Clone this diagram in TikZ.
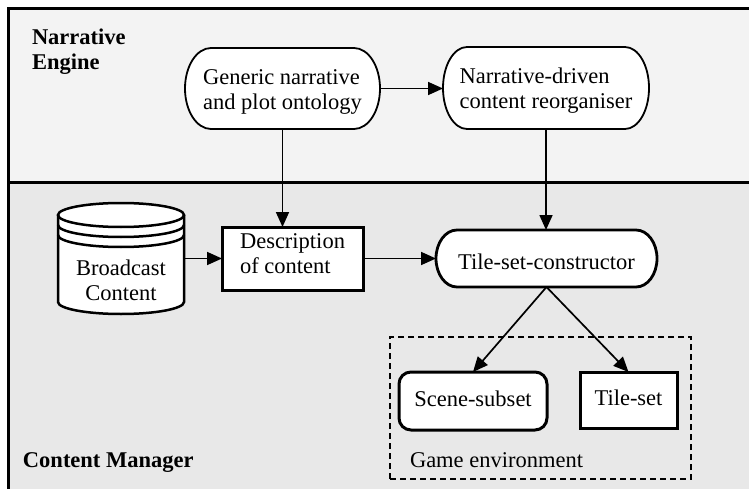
\documentclass[tikz,border=0pt]{standalone}
\usepackage{fontspec}
\setmainfont{Liberation Serif}
\usetikzlibrary{arrows.meta,calc}
\definecolor{topbg}{HTML}{F3F3F3}
\definecolor{botbg}{HTML}{E8E8E8}
\pgfdeclarelayer{back}
\pgfdeclarelayer{shapes}
\pgfsetlayers{back,shapes,main}
% #1 style, #2 node, #3 x radius of ends, #4 half height
\newcommand\stadiumpath[4]{%
 \path[#1] let \p1=(#2.north west), \p2=(#2.south east) in
  (\x1+#3pt,\y1) -- (\x2-#3pt,\y1)
  .. controls (\x2-0.4477*#3pt,\y1) and (\x2,\y1-0.4477*#4pt) .. (\x2,\y1-#4pt)
  .. controls (\x2,\y2+0.4477*#4pt) and (\x2-0.4477*#3pt,\y2) .. (\x2-#3pt,\y2)
  -- (\x1+#3pt,\y2)
  .. controls (\x1+0.4477*#3pt,\y2) and (\x1,\y2+0.4477*#4pt) .. (\x1,\y2+#4pt)
  .. controls (\x1,\y1-0.4477*#4pt) and (\x1+0.4477*#3pt,\y1) .. (\x1+#3pt,\y1) -- cycle;}
\begin{document}
\begin{tikzpicture}[x=1pt,y=-1pt,
  font=\fontsize{22.5}{25}\selectfont,
  every node/.style={inner sep=0pt, outer sep=0pt},
  arr/.style={-{Triangle[length=15pt,width=13pt]}, line width=1.7pt},
  rectbox/.style={draw, fill=white, line width=3pt},
  heading/.style={anchor=base west, font=\fontsize{22.5}{25}\selectfont\bfseries},
  frame/.style={line width=3pt}]
\useasboundingbox (0,0) rectangle (749,489);

% nodes
\node[minimum width=195pt, minimum height=81pt, text height=17.5pt, text depth=24.5pt]
  (n1) at (282.5,88.5) {\begin{tabular}[t]{@{}l@{}}Generic narrative\\and plot ontology\end{tabular}};
\node[minimum width=206pt, minimum height=82pt, text height=17.5pt, text depth=25.5pt]
  (n2) at (546,88) {\begin{tabular}[t]{@{}l@{}}Narrative-driven\\content reorganiser\end{tabular}};
\node[rectbox, minimum width=141pt, minimum height=63pt, text height=10pt, text depth=31pt]
  (desc) at (292.5,258.5) {\begin{tabular}[t]{@{}l@{}}Description\\of content\end{tabular}};
\node[minimum width=126pt, minimum height=111pt, text height=33pt, text depth=0pt]
  (bc) at (121,258.5) {\begin{tabular}[t]{@{}c@{}}Broadcast\\Content\end{tabular}};
\node[minimum width=221pt, minimum height=57pt, text height=21pt, text depth=0pt]
  (tsc) at (546.5,258.5) {Tile-set-constructor};
\node[rectbox, rounded corners=12pt, minimum width=148pt, minimum height=58pt, text height=15pt, text depth=5pt]
  (ss) at (473,401) {Scene-subset};
\node[rectbox, minimum width=97pt, minimum height=56pt, text height=16pt, text depth=5pt]
  (ts) at (628.5,400) {Tile-set};
\node[draw, line width=2pt, dash pattern=on 6pt off 4pt, minimum width=301pt, minimum height=142pt]
  (game) at (540.5,408) {};
\node[anchor=base west] (gamelabel) at (410,467) {Game environment};
\node[heading] (ne) at (32,45) {\begin{tabular}[t]{@{}l@{}}Narrative\\Engine\end{tabular}};
\node[heading] (cm) at (23,467) {Content Manager};

% backgrounds and frame
\begin{pgfonlayer}{back}
\fill[topbg] (8,8) rectangle (749,183);
\fill[botbg] (8,183) rectangle (749,489);
\draw[frame] (752,8.5) -- (8,8.5) -- (8,492);
\draw[frame] (8,183) -- (752,183);
\end{pgfonlayer}

% shape outlines
\begin{pgfonlayer}{shapes}
\stadiumpath{draw, fill=white, line width=1.8pt}{n1}{26}{40.5}
\stadiumpath{draw, fill=white, line width=1.8pt}{n2}{24}{41}
\stadiumpath{draw, fill=white, line width=2.8pt}{tsc}{21}{28.5}
% database cylinder
\fill[white] (121,302) ellipse [x radius=63pt, y radius=12pt];
\fill[white] (58,215) rectangle (184,302);
\fill[white] (121,215) ellipse [x radius=63pt, y radius=12pt];
\draw[line width=2.5pt] (121,215) ellipse [x radius=63pt, y radius=12pt];
\draw[line width=2.5pt] (58,215) -- (58,302)
  .. controls (58,308.63) and (86.2,314) .. (121,314)
  .. controls (155.8,314) and (184,308.63) .. (184,302) -- (184,215);
\foreach \c in {225,235}
  \draw[line width=2.5pt] (58,\c) .. controls (58,\c+6.63) and (86.2,\c+12) .. (121,\c+12)
    .. controls (155.8,\c+12) and (184,\c+6.63) .. (184,\c);
\end{pgfonlayer}

% connectors
\draw[arr] (n1.east) -- (n1.east -| n2.west);
\draw[arr] (n1.south) -- (n1.south |- desc.north);
\draw[arr] (n2.south) -- (n2.south |- tsc.north);
\draw[arr] (bc.east) -- (desc.west);
\draw[arr] (desc.east) -- (tsc.west);
\draw[arr] (tsc.south) -- (ss.north);
\draw[arr] (tsc.south) -- (ts.north);
\end{tikzpicture}
\end{document}
